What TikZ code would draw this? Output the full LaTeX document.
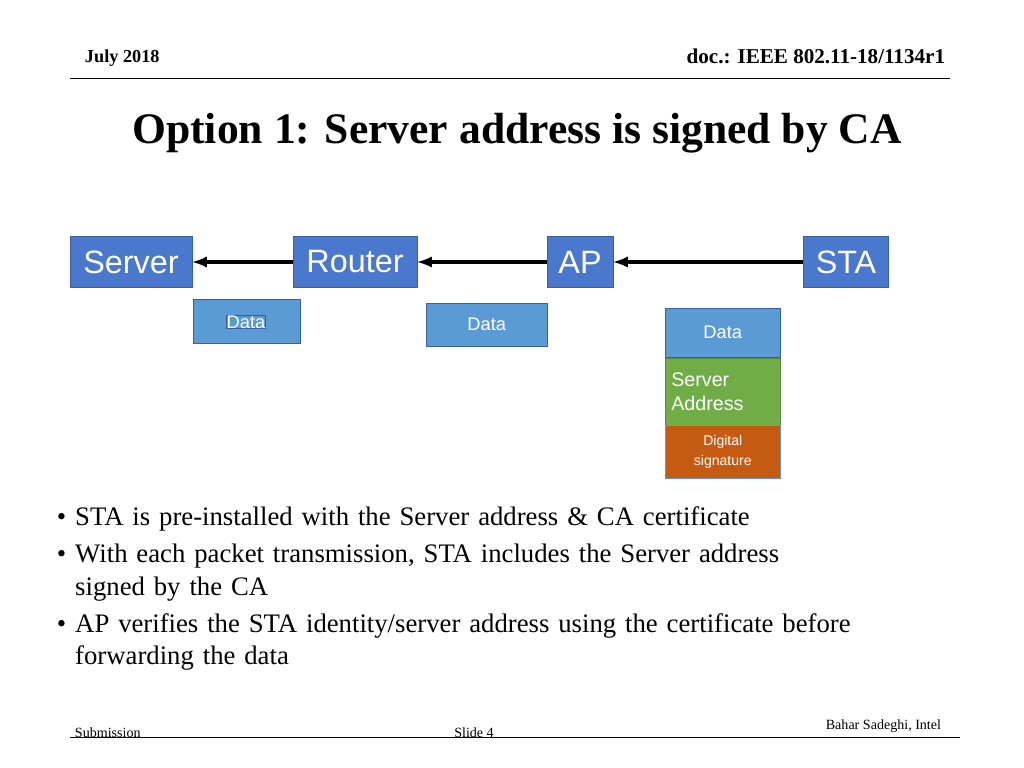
\documentclass[tikz,border=0pt]{standalone}
\usepackage{fontspec}
\setmainfont{Liberation Serif}
\newfontfamily\arial{Liberation Sans}
\usetikzlibrary{positioning}
\newdimen\pxu \pxu=0.025cm
\definecolor{boxblue}{HTML}{4A78CC}
\definecolor{boxedge}{HTML}{3A5F9E}
\definecolor{datablue}{HTML}{5B9BD5}
\definecolor{addrgreen}{HTML}{70AD47}
\definecolor{sigorange}{HTML}{C55A11}
\begin{document}
\begin{tikzpicture}[x=0.025cm, y=-0.025cm,
hop/.style={draw=boxedge, fill=boxblue, text=white, font=\arial\fontsize{23}{25}\selectfont, minimum height=51\pxu, inner sep=0pt},
pkt/.style={draw=boxedge, fill=datablue, text=white, font=\arial\fontsize{13}{15}\selectfont, inner sep=0pt},
link/.style={line width=2.5pt, -latex},
bullet/.style={anchor=north west, align=left, font=\fontsize{19}{23}\selectfont, text width=880\pxu}
]
\useasboundingbox (0,0) rectangle (1024,768);
% header
\node[anchor=west, font=\bfseries\fontsize{13}{15}\selectfont] (date) at (80,58) {July 2018};
\node[anchor=east, font=\bfseries\fontsize{15}{17}\selectfont] (doc) at (950,56) {doc.: IEEE 802.11-18/1134r1};
\draw (70,78) -- (950,78);
\node[font=\bfseries\fontsize{31}{35}\selectfont] (title) at (517,133) {Option 1: Server address is signed by CA};
% path
\node[hop, minimum width=122\pxu] (server) at (131,262) {Server};
\node[hop, minimum width=124\pxu] (router) at (355,262) {Router};
\node[hop, minimum width=66\pxu] (ap) at (580,262) {AP};
\node[hop, minimum width=85\pxu] (sta) at (846,262) {STA};
\draw[link] (router) -- (server);
\draw[link] (ap) -- (router);
\draw[link] (sta) -- (ap);
% packets
\node[pkt, minimum width=107\pxu, minimum height=44\pxu, anchor=north west, text depth=0pt] (data1) at (193,299) {};
\node[pkt, font=\arial\fontsize{13}{15}\selectfont, text=white] at (246,322) {Data};
\node[pkt, minimum width=121\pxu, minimum height=43\pxu, anchor=north west] (data2) at (426,303) {Data};
\node[pkt, minimum width=115\pxu, minimum height=49\pxu, anchor=north west] (data3) at (665,308) {Data};
\node[draw=addrgreen!80!black, fill=addrgreen, text=white, font=\arial\fontsize{14}{17}\selectfont, minimum width=115\pxu, minimum height=67\pxu, anchor=north, align=left, inner sep=0pt, text width=103\pxu] (addr) at (data3.south) {Server\\Address};
\node[draw=datablue, fill=sigorange, text=white, font=\arial\fontsize{10}{14}\selectfont, minimum width=115\pxu, minimum height=53\pxu, anchor=north, align=center, inner sep=0pt] (sig) at (addr.south) {Digital\\signature};
% bullets
\node[bullet] (b1) at (52,502) {\textbullet\ STA is pre-installed with the Server address \& CA certificate};
\node[bullet, below=2pt of b1.south west, anchor=north west] (b2) {\textbullet\ With each packet transmission, STA includes the Server address\\\hphantom{\textbullet\ }signed by the CA};
\node[bullet, below=2pt of b2.south west, anchor=north west] (b3) {\textbullet\ AP verifies the STA identity/server address using the certificate before\\\hphantom{\textbullet\ }forwarding the data};
% footer
\draw (70,737) -- (960,737);
\node[anchor=west, font=\fontsize{10}{12}\selectfont] (sub) at (70,733) {Submission};
\node[font=\fontsize{10}{12}\selectfont] (slide) at (474,733) {Slide 4};
\node[anchor=east, font=\fontsize{10}{12}\selectfont] (author) at (946,726) {Bahar Sadeghi, Intel};
\end{tikzpicture}
\end{document}
